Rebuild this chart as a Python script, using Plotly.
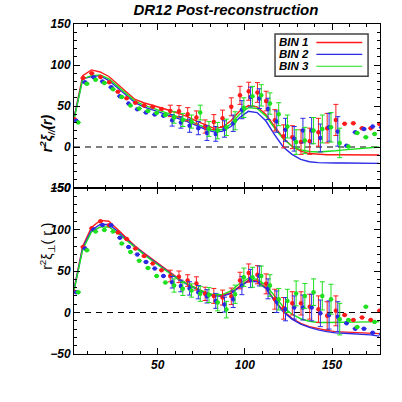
import plotly.graph_objects as go

# bin centres (Mpc/h) of the measured correlation functions
r_bins = [2.5, 7.5, 12.5, 17.5, 22.5, 27.5, 32.5, 37.5, 42.5, 47.5, 52.5, 57.5,
          62.5, 67.5, 72.5, 77.5, 82.5, 87.5, 92.5, 97.5, 102.5, 107.5, 112.5, 117.5,
          122.5, 127.5, 132.5, 137.5, 142.5, 147.5, 152.5, 157.5, 162.5, 167.5, 172.5, 177.5]

# radii where the best-fit models are tabulated
r_model = [2, 7, 12, 17, 22, 27, 32, 37, 42, 47, 52, 57, 62, 67, 72, 77, 82, 87,
           92, 97, 102, 107, 112, 117, 122, 127, 132, 137, 142, 147, 152, 157, 162, 167, 172, 177]

# small horizontal shift of each bin so the points don't sit on top of each other
bin_shift = {"BIN 1": -0.3, "BIN 2": 0.8, "BIN 3": 1.9}

# r^2 xi_parallel data
par_bin1 = [34, 84, 90, 85.5, 79, 67.5, 59.5, 54, 50.5, 49, 46.5, 44, 43.5, 40, 36, 25, 30.5, 35,
            49, 63, 68, 66.5, 56, 32.5, 13, 12, 6, 7, 18, 23, 33, 28.5, 29, 23, 23, 28]
par_bin2 = [32, 79, 85, 80, 73, 62, 53, 46, 42, 39.5, 38, 32.5, 30, 26, 23, 17, 16, 22,
            29, 45.5, 61, 59, 46.5, 31, 21, 10, 20, 20, 11, 24, 19, 1.5, 18, 22, 25, 24]
par_bin3 = [30, 77, 82, 78, 70.5, 61, 50.5, 47, 44, 41.5, 39, 36, 33, 31, 42, 22, 20, 24,
            32, 48, 62, 63, 53, 40, 25, 6, 8, 20, 22, 24, 5, 0.5, 17, 12, 16, 14]

par_err1 = [None] * 11 + [7, 7, 8, 8, 8, 9, 10, 11, 11, 11, 12, 12, 13, 14, 14, 15, 16, 17, 18, 19] + [None] * 5
par_err2 = [None] * 11 + [7, 7, 8, 8, 9, 9, 10, 10, 11, 12, 12, 13, 13, 14, 15, 15, 16, 17, 17, 18] + [None] * 5
par_err3 = [None] * 11 + [7, 8, 8, 9, 9, 10, 10, 11, 12, 12, 13, 13, 14, 14, 15, 16, 16, 17, 18, 18] + [None] * 5

# r^2 xi_perpendicular data
perp_bin1 = [25, 79, 101.5, 110, 105, 96.5, 88.5, 77, 68, 59, 51, 44, 43, 38.5, 35, 22.5, 20, 18,
             19.5, 38.5, 47.5, 45.5, 34.5, 16, 5, 11, 11, 7, 4, -4, 2, -3, -9, -6, -9, 2]
perp_bin2 = [24.5, 77, 100, 105.5, 105, 90, 79, 70, 61, 53, 44, 36.5, 32, 29, 24.5, 19.5, 14, 9.5,
             16, 32.5, 41, 44, 28.5, 13, 4, 6, 6, 6, -1, -3, -5, -13, -19.5, -19.5, -24.5, -26]
perp_bin3 = [24.5, 75, 97.5, 99.5, 97.5, 83, 73, 62.5, 53.5, 44, 36, 32.5, 28.5, 26.5, 22.5, 21, 12, 3.5,
             22, 42.5, 42.5, 44, 32.5, 16, 14, 23, 20, 24.5, 20, 16, -8, -9, -17.5, 7, -11.5, -10]

perp_err1 = [None] * 11 + [7, 7, 7, 8, 8, 9, 9, 10, 10, 11, 11, 12, 12, 13, 14, 14, 15, 16, 17, 18] + [None] * 5
perp_err2 = [None] * 11 + [7, 7, 8, 8, 8, 9, 9, 10, 11, 11, 12, 12, 13, 14, 14, 15, 16, 16, 17, 18] + [None] * 5
perp_err3 = [None] * 11 + [8, 8, 8, 9, 9, 10, 10, 11, 11, 12, 12, 13, 13, 14, 15, 15, 16, 17, 18, 19] + [None] * 5

# best-fit models
par_model1 = [35, 87, 94, 91.5, 86, 77, 67, 58, 54, 51, 48, 44.5, 41, 37, 32, 27, 23, 24,
              32, 44, 50.5, 49, 40, 25, 11, 1, -5, -8, -9, -9.5, -9.5, -9.5, -9.5, -9.7, -9.8, -9.8]
par_model2 = [35, 83, 86, 87, 81, 72, 62, 54, 49, 45.5, 42, 38.5, 35, 31, 26.5, 22, 18.5, 19,
              25, 36, 43.5, 42, 32, 15, 0, -9, -15, -18, -19, -19.5, -19.5, -19.5, -19.5, -19.5, -19.8, -20]
par_model3 = [33, 83, 87, 88, 83, 74, 64, 56, 51, 47.5, 44, 40.5, 37, 33, 28.5, 24, 20.5, 21,
              28, 40, 48, 47, 38, 23, 10, 1, -3.5, -5.5, -6, -5.5, -4.5, -3.5, -2.5, -1.5, -0.5, 0]

perp_model1 = [28, 80, 102.5, 111, 110, 100, 89, 80, 72, 64, 56, 48, 41, 34.5, 29, 24.5, 21, 20.5,
               24, 32, 39, 38, 30, 15, 2, -7, -13, -17, -19.5, -21.5, -23, -23.5, -24, -24.5, -25, -25.5]
perp_model2 = [27, 78, 99, 106, 106, 98, 88, 79, 71, 63, 55, 47, 40, 33.5, 28, 23.5, 20, 19.5,
               23, 31, 38, 37, 29, 14, 1, -8, -14, -18, -21, -23, -24.5, -25, -25.5, -26, -27, -28.5]
perp_model3 = [26, 76, 97, 103, 103, 96, 87, 78, 70, 62, 54, 47, 40, 34, 29, 24.5, 21.5, 21.5,
               26, 35, 41, 40, 33, 20, 7, -2, -7.5, -10.5, -12, -12, -12, -12, -11.8, -11.5, -11.3, -11]

bin_names = ["BIN 1", "BIN 2", "BIN 3"]
colors = {"BIN 1": "#ff1a1a", "BIN 2": "#2a2ae6", "BIN 3": "#1ee01e"}

par_data = dict(zip(bin_names, [par_bin1, par_bin2, par_bin3]))
par_errs = dict(zip(bin_names, [par_err1, par_err2, par_err3]))
par_models = dict(zip(bin_names, [par_model1, par_model2, par_model3]))
perp_data = dict(zip(bin_names, [perp_bin1, perp_bin2, perp_bin3]))
perp_errs = dict(zip(bin_names, [perp_err1, perp_err2, perp_err3]))
perp_models = dict(zip(bin_names, [perp_model1, perp_model2, perp_model3]))

FONT = "Liberation Sans"

fig = go.Figure()

panels = [("x", "y", par_data, par_errs, par_models),
          ("x2", "y2", perp_data, perp_errs, perp_models)]

for xa, ya, data, errs, models in panels:
    for name in bin_names:
        c = colors[name]
        fig.add_trace(go.Scatter(
            x=r_model, y=models[name], mode="lines",
            line=dict(color=c, width=1.4),
            xaxis=xa, yaxis=ya, showlegend=False,
        ))
    for name in bin_names:
        c = colors[name]
        fig.add_trace(go.Scatter(
            x=[r + bin_shift[name] for r in r_bins], y=data[name], mode="markers",
            marker=dict(color=c, size=4.5, symbol="circle"),
            error_y=dict(type="data", array=errs[name], color=c, thickness=1, width=2.5),
            xaxis=xa, yaxis=ya, showlegend=False,
        ))

axis_common = dict(
    showline=True, linecolor="black", linewidth=1, mirror="allticks",
    ticks="inside", ticklen=6, tickcolor="black", tickwidth=1,
    showgrid=False, zeroline=False,
    tickfont=dict(family=FONT, size=12, color="black", weight="bold", style="italic"),
    minor=dict(ticks="inside", ticklen=3, tickcolor="black", dtick=10, showgrid=False),
)

fig.update_layout(
    width=402, height=402,
    margin=dict(l=74, r=22, t=24, b=48),
    paper_bgcolor="white", plot_bgcolor="white",
    title=dict(text="<b><i>DR12 Post-reconstruction</i></b>", x=0.562, xanchor="center",
               y=0.975, yanchor="middle", font=dict(family=FONT, size=15, color="black")),
    xaxis=dict(axis_common, range=[2, 177.5], dtick=50, tick0=0, anchor="y",
               showticklabels=False, matches="x2"),
    xaxis2=dict(axis_common, range=[2, 177.5], dtick=50, tick0=0, anchor="y2"),
    yaxis=dict(axis_common, range=[-50, 150], dtick=50, domain=[0.503, 1], anchor="x"),
    yaxis2=dict(axis_common, range=[-50, 150], dtick=50, domain=[0, 0.503], anchor="x2"),
)

# dashed zero lines
for xr, yr in [("x domain", "y"), ("x2 domain", "y2")]:
    fig.add_shape(type="line", xref=xr, yref=yr, x0=0, x1=1, y0=0, y1=0,
                  line=dict(color="black", width=1, dash="6px,5px"), layer="below")

# y-axis labels
fig.add_annotation(text="<b><i>r<sup>2</sup>ξ<sub>//</sub>(r)</i></b>", xref="paper", yref="paper",
                   x=-0.127, y=0.733, textangle=-90, showarrow=False,
                   font=dict(family=FONT, size=14, color="black"))
fig.add_annotation(text="r<sup>2</sup>ξ<sub>⊥</sub>( r )", xref="paper", yref="paper",
                   x=-0.127, y=0.248, textangle=-90, showarrow=False,
                   font=dict(family=FONT, size=14, color="black"))

# legend box drawn IDL-style: label on the left, line sample on the right
fig.add_shape(type="rect", xref="paper", yref="paper", x0=0.657, x1=0.961, y0=0.842, y1=0.970,
              line=dict(color="#444444", width=1.5), fillcolor="white")
for name, yy in zip(bin_names, [0.944, 0.908, 0.872]):
    fig.add_annotation(text="<b><i>" + name + "</i></b>", xref="paper", yref="paper",
                       x=0.668, y=yy, xanchor="left", yanchor="middle", showarrow=False,
                       height=10, borderpad=0, font=dict(family=FONT, size=11.5, color="black"))
    fig.add_shape(type="line", xref="paper", yref="paper", x0=0.792, x1=0.942, y0=yy, y1=yy,
                  line=dict(color=colors[name], width=1.6 if name == "BIN 1" else 1.2))

# the page's default body margin would push the 402px figure off by 8px
fig.write_html("out.html", config={"displayModeBar": False},
               post_script="document.body.style.margin = '0';")
